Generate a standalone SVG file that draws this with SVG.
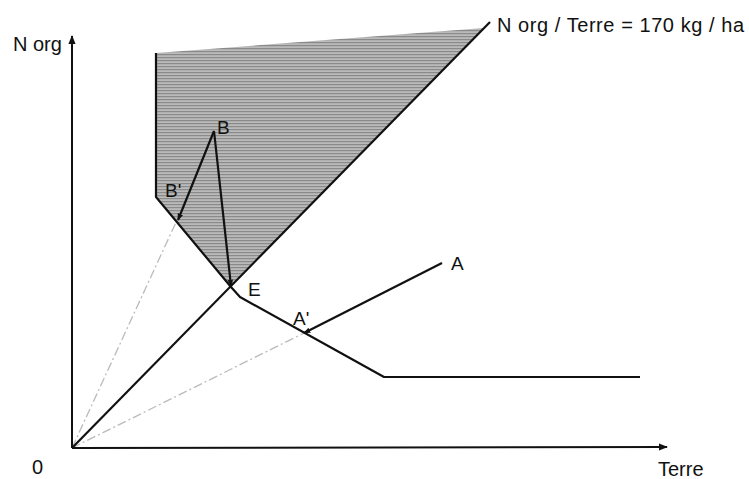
<svg xmlns="http://www.w3.org/2000/svg" width="749" height="479" viewBox="0 0 749 479">
<defs>
<pattern id="hatch" patternUnits="userSpaceOnUse" width="6" height="3">
<rect width="6" height="3" fill="#bababa"/>
<rect width="6" height="1.2" fill="#8a8a8a"/>
</pattern>
<marker id="ah" viewBox="0 0 10 10" refX="9" refY="5" markerWidth="7" markerHeight="7" orient="auto" markerUnits="userSpaceOnUse">
<path d="M0,1 L10,5 L0,9 z" fill="#111"/>
</marker>
<marker id="ax" viewBox="0 0 10 10" refX="9" refY="5" markerWidth="9" markerHeight="9" orient="auto" markerUnits="userSpaceOnUse">
<path d="M0,1 L10,5 L0,9 z" fill="#111"/>
</marker>
</defs>
<style>
.ln{stroke:#111;stroke-width:2.2;fill:none;stroke-linejoin:round}
.ax{stroke:#111;stroke-width:2;fill:none}
.ds{stroke:#bbb;stroke-width:1.3;fill:none;stroke-dasharray:9 3 2 3}
text{font-family:"Liberation Sans",Arial,sans-serif;fill:#111}
.lb{font-size:19px}
.tl{font-size:20px}
</style>
<g id="region">
<polygon points="156,53 484,28 231,287 156,197" fill="url(#hatch)"/>
</g>
<g id="connectors">
<line class="ds" x1="72" y1="448" x2="178" y2="218"/>
<line class="ds" x1="72" y1="448" x2="304" y2="333"/>
<line class="ax" x1="72" y1="448" x2="72" y2="36" marker-end="url(#ax)"/>
<line class="ax" x1="72" y1="448" x2="667" y2="447" marker-end="url(#ax)"/>
<line class="ln" x1="72" y1="448" x2="490" y2="22"/>
<polyline class="ln" points="156,53 156,197 231,287 240,297 384,377 640,377"/>
<line class="ln" x1="214" y1="131" x2="178" y2="220" marker-end="url(#ah)"/>
<line class="ln" x1="214" y1="131" x2="231" y2="286" marker-end="url(#ah)"/>
<line class="ln" x1="442" y1="263" x2="304" y2="333" marker-end="url(#ah)"/>
</g>
<g id="labels">
<text class="tl" x="13" y="51">N org</text>
<text class="tl" x="497" y="32" textLength="247" lengthAdjust="spacing">N org / Terre = 170 kg / ha</text>
<text class="tl" x="32" y="474">0</text>
<text class="tl" x="658" y="476">Terre</text>
<text class="lb" x="217" y="134">B</text>
<text class="lb" x="165" y="197">B'</text>
<text class="lb" x="248" y="296">E</text>
<text class="lb" x="451" y="270">A</text>
<text class="lb" x="293" y="325">A'</text>
</g>
</svg>
